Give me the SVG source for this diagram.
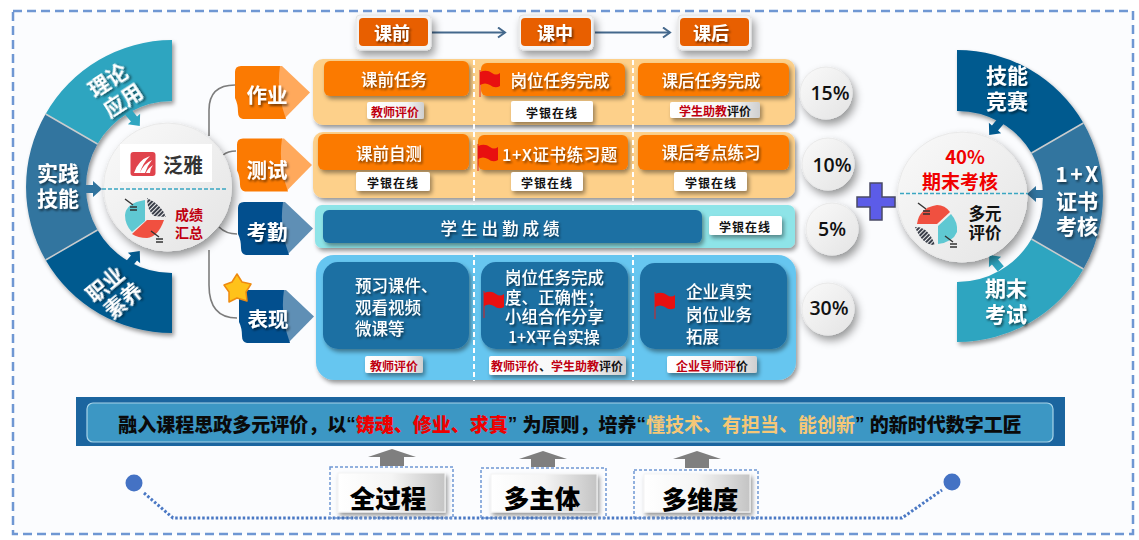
<svg xmlns="http://www.w3.org/2000/svg" width="1139" height="540" viewBox="0 0 1139 540">
<style>
text{font-family:"Noto Sans CJK SC","Noto Sans",sans-serif;text-anchor:middle;dominant-baseline:central}
.fan{font-size:21px;font-weight:700;fill:#fff;filter:url(#ts)}
.tag{font-size:20.5px;font-weight:700;fill:#fff;filter:url(#ts)}
.hd{font-size:18px;font-weight:700;fill:#fff;filter:url(#ts)}
.cell{font-size:16.5px;font-weight:500;fill:#fff;filter:url(#ts)}
.l{text-anchor:start}
.sm{font-size:12px;font-weight:700;fill:#111}
.red{fill:#c00010}
.pc{font-family:"Open Sans",sans-serif;font-size:19.5px;font-weight:600;fill:#111}
.big{font-size:25.5px;font-weight:900;fill:#000}
.q{font-family:"Liberation Sans",sans-serif}
.or{fill:#fb7a02}.db{fill:#1f6fa3}.wt{fill:#fff;filter:url(#s1)}.gt{fill:url(#gl);filter:url(#s1)}
.divd{stroke:#fff;stroke-width:2;stroke-dasharray:5 3;fill:none}
.circ{fill:url(#gc);stroke:#e9e9e9;stroke-width:1;filter:url(#s2)}
.box{fill:none;stroke:#6f97d3;stroke-width:1.5;stroke-dasharray:3 2}
.inner{fill:url(#gb);stroke:#f4f4f4;filter:url(#s1)}
.frame{fill:#f3f3f3;stroke:#e4e4e4;filter:url(#s2)}
</style>
<defs>
<filter id="s1" x="-20%" y="-30%" width="140%" height="170%"><feDropShadow dx="2" dy="3" stdDeviation="2" flood-color="#000" flood-opacity=".4"/></filter>
<filter id="s2" x="-30%" y="-30%" width="170%" height="170%"><feDropShadow dx="3" dy="5" stdDeviation="4" flood-color="#000" flood-opacity=".4"/></filter>
<filter id="ts" x="-20%" y="-30%" width="150%" height="170%"><feDropShadow dx="1.5" dy="2" stdDeviation="1.2" flood-color="#000" flood-opacity=".55"/></filter>
<linearGradient id="gc" x1="0" y1="0" x2="1" y2="1"><stop offset="0" stop-color="#fafafa"/><stop offset="1" stop-color="#e4e4e4"/></linearGradient>
<linearGradient id="gb" x1="0" y1="0" x2="1" y2="0"><stop offset="0" stop-color="#fff"/><stop offset=".5" stop-color="#f5f5f5"/><stop offset="1" stop-color="#c4c4c4"/></linearGradient>
<linearGradient id="gl" x1="0" y1="0" x2="1" y2="0"><stop offset="0" stop-color="#fff"/><stop offset=".7" stop-color="#f4f4f4"/><stop offset="1" stop-color="#cfcfcf"/></linearGradient>
<pattern id="hatch" width="3" height="3" patternUnits="userSpaceOnUse" patternTransform="rotate(45)"><rect width="3" height="3" fill="#eee"/><rect width="2" height="3" fill="#3a3f4a"/></pattern>
<marker id="ah" markerWidth="12" markerHeight="12" refX="10" refY="6" orient="auto" markerUnits="userSpaceOnUse"><path d="M3 1 L10 6 L3 11" fill="none" stroke="#44688c" stroke-width="2"/></marker>
<path id="sa" d="M-9 -4H0V-8L9 0L0 8V4H-9Z"/>
<path id="tagtip" d="M44 0H47L75 26.5L50 52H47Q40 26 44 0Z"/>
<path id="tagbody" d="M6 0H45Q41 26 51 53H8Q3 52 3 46Q3 38 0 32V6Q0 0 6 0Z"/>
<g id="flag"><path d="M1 0V27" stroke="#e02020" stroke-width="1" fill="none"/><path d="M1 2Q8 -1 13 3Q17 6 21 3V16Q16 19 11 15Q6 12 1 15Z" fill="#e81010"/></g>
<g id="ticks"><path d="M0 0L8 6M5 8H12M5 11H12" stroke="#333" stroke-width="1.4" fill="none"/></g>
</defs>

<rect width="1139" height="540" fill="#fff"/>
<rect x="13" y="11" width="1120" height="523" fill="#fbfcfe" stroke="#6f97d3" stroke-width="2.5" stroke-dasharray="9 5"/>

<g id="connectors" fill="none">
<path d="M235 85Q209 85 209 110V136" stroke="#7d7d7d" stroke-width="1.6"/>
<path d="M236 151Q228 151 223 155" stroke="#7d7d7d" stroke-width="1.6"/>
<path d="M219 227Q226 234 237 234" stroke="#7d7d7d" stroke-width="1.6"/>
<path d="M209 250V285Q209 318 237 318" stroke="#7d7d7d" stroke-width="1.6"/>
<path d="M432 32.500H505" stroke="#44688c" stroke-width="2" marker-end="url(#ah)"/>
<path d="M595 32.500H670" stroke="#44688c" stroke-width="2" marker-end="url(#ah)"/>
<path d="M144 493L173 518H902L942 490" stroke="#4a78c4" stroke-width="3" stroke-dasharray="2.500 2"/>
</g>

<g id="fan-left">
<g filter="url(#s1)">
<path id="seg-l1" d="M172 40A146 146 0 0 0 45.600 114L97.500 144A86 86 0 0 1 172 101Z" fill="#2fa5c0"/>
<path id="seg-l2" d="M45.600 114A146 146 0 0 0 45.600 260L97.500 230A86 86 0 0 1 97.500 144Z" fill="#31749f"/>
<path id="seg-l3" d="M45.600 260A146 146 0 0 0 172 333V273A86 86 0 0 1 97.500 230Z" fill="#025a8f"/>
</g>
<path d="M45.600 114L97.500 144M45.600 260L97.500 230" stroke="#c9ccce" stroke-width="1.500"/>
<text class="fan" transform="translate(107 79) rotate(-33)">理论<tspan x="1.700" dy="25">应用</tspan></text>
<text class="fan" x="58" y="172">实践<tspan x="58" dy="25">技能</tspan></text>
<text class="fan" transform="translate(104 283) rotate(-40)">职业<tspan x="3.500" dy="23.800">素养</tspan></text>
<use href="#sa" transform="translate(134 119) rotate(50)" fill="#2fa5c0"/>
<use href="#sa" transform="translate(93 189)" fill="#31749f"/>
<use href="#sa" transform="translate(134 258) rotate(-50)" fill="#025a8f"/>
</g>

<g id="hub-left">
<circle class="circ" cx="167.500" cy="187" r="64"/>
<rect x="120" y="144" width="92" height="38" fill="#fff"/>
<rect x="130.500" y="152" width="25" height="24" rx="3" fill="#e0434c"/>
<path d="M134 173Q138 160 150 156Q142 164 140 173ZM140 173Q143 164 152 160Q147 166 145 173ZM146 173Q148 168 153 165Q150 169 150 173Z" fill="#fff"/>
<text x="183" y="164" font-size="20" font-weight="700" fill="#333">泛雅</text>
<path d="M102 189H228" stroke="#3aa6c2" stroke-width="1.500" stroke-dasharray="4 2"/>
<path d="M145 200V221L132 232Q125 225 125 215Q126 203 145 200Z" fill="#5fc8d2"/>
<path d="M147 198Q162 205 166 217L154 216Q147 210 147 198Z" fill="url(#hatch)"/>
<path d="M147 220H164Q158 237 147 238Q138 238 132 234Z" fill="#f05040"/>
<use href="#ticks" transform="translate(125 199)"/>
<use href="#ticks" transform="translate(151 231)"/>
<text x="189" y="214" font-size="14" font-weight="700" fill="#c00010">成绩<tspan x="189" dy="17.500">汇总</tspan></text>
</g>

<g id="tag-zuoye" transform="translate(235 66)"><use href="#tagtip" fill="#ffa95c"/><use href="#tagbody" fill="#fb7a02"/><text class="tag" x="32" y="28">作业</text></g>
<g id="tag-ceshi" transform="translate(237 138.500)"><use href="#tagtip" fill="#ffa95c"/><use href="#tagbody" fill="#fb7a02"/><text class="tag" x="30" y="30">测试</text></g>
<g id="tag-kaoqin" transform="translate(238 202)"><use href="#tagtip" fill="#5f8fb5"/><use href="#tagbody" fill="#024f8e"/><text class="tag" x="29" y="29">考勤</text></g>
<g id="tag-biaoxian" transform="translate(239 290)"><use href="#tagtip" fill="#5f8fb5"/><use href="#tagbody" fill="#024f8e"/><text class="tag" x="29" y="28">表现</text></g>
<g id="star"><path d="M237 274L242 282L251 284L246 292L247 301L237 298L229 302L229 292L224 285L232 282Z" fill="#ffc21a" stroke="#ee8a10" stroke-width="1.500" stroke-linejoin="round"/></g>

<g id="headers">
<g id="h1"><rect class="frame" x="356" y="15" width="75" height="35" rx="4"/><rect x="359" y="18" width="69" height="28" rx="4" fill="#e85f00"/><text class="hd" x="392" y="32">课前</text></g>
<g id="h2"><rect class="frame" x="519" y="15" width="74" height="35" rx="4"/><rect x="521" y="18" width="70" height="28" rx="4" fill="#e85f00"/><text class="hd" x="555" y="32">课中</text></g>
<g id="h3"><rect class="frame" x="678" y="15" width="73" height="35" rx="4"/><rect x="680" y="18" width="69" height="28" rx="4" fill="#e85f00"/><text class="hd" x="711" y="32">课后</text></g>
</g>

<g id="row1">
<rect x="313" y="59" width="482" height="66" rx="10" fill="#fdd08a" filter="url(#s1)"/>
<rect class="or" x="324" y="61" width="145" height="35" rx="6" filter="url(#s1)"/>
<rect class="or" x="481" y="63" width="144" height="33" rx="6" filter="url(#s1)"/>
<rect class="or" x="638" y="63" width="151" height="33" rx="6" filter="url(#s1)"/>
<text class="cell" x="394" y="79">课前任务</text>
<text class="cell" x="560" y="80">岗位任务完成</text>
<text class="cell" x="711" y="80">课后任务完成</text>
<use href="#flag" transform="translate(479 70)"/>
<rect class="gt" x="367" y="102" width="57" height="17" rx="2"/><text class="sm red" x="395" y="111">教师评价</text>
<rect class="wt" x="511" y="101" width="82" height="21" rx="2"/><text class="sm" x="552" y="112" letter-spacing="1">学银在线</text>
<rect class="gt" x="670" y="102" width="90" height="16" rx="2"/><text class="sm" x="715" y="110"><tspan class="red">学生助教</tspan>评价</text>
</g>

<g id="row2">
<rect x="313" y="132" width="482" height="66" rx="10" fill="#fdd08a" filter="url(#s1)"/>
<rect class="or" x="318" y="134" width="151" height="36" rx="6" filter="url(#s1)"/>
<rect class="or" x="478" y="135" width="150" height="35" rx="6" filter="url(#s1)"/>
<rect class="or" x="638" y="135" width="151" height="35" rx="6" filter="url(#s1)"/>
<text class="cell" x="389" y="153">课前自测</text>
<text class="cell" x="560" y="154" font-size="17" letter-spacing=".6">1+X证书练习题</text>
<text class="cell" x="711" y="152">课后考点练习</text>
<use href="#flag" transform="translate(477 144)"/>
<rect class="wt" x="356" y="172" width="74" height="19" rx="2"/><text class="sm" x="393" y="182" letter-spacing="1">学银在线</text>
<rect class="wt" x="511" y="172" width="72" height="19" rx="2"/><text class="sm" x="547" y="182" letter-spacing="1">学银在线</text>
<rect class="wt" x="674" y="172" width="73" height="19" rx="2"/><text class="sm" x="711" y="182" letter-spacing="1">学银在线</text>
</g>

<g id="row4">
<rect x="316" y="255" width="480" height="125" rx="18" fill="#66c6f0" filter="url(#s1)"/>
<rect class="db" x="323" y="262" width="146" height="87" rx="15" filter="url(#s1)"/>
<rect class="db" x="481" y="262" width="147" height="87" rx="15" filter="url(#s1)"/>
<rect class="db" x="640" y="263" width="147" height="86" rx="15" filter="url(#s1)"/>
<text class="cell l" x="355" y="285">预习课件、<tspan x="355" dy="21.500">观看视频</tspan><tspan x="355" dy="21.500">微课等</tspan></text>
<text class="cell l" x="505" y="277">岗位任务完成<tspan x="505" dy="19.500">度、正确性；</tspan><tspan x="505" dy="19.500">小组合作分享</tspan><tspan x="508" dy="19.500" font-size="16">1+X平台实操</tspan></text>
<text class="cell l" x="686" y="291">企业真实<tspan x="686" dy="22.500">岗位业务</tspan><tspan x="686" dy="22.500">拓展</tspan></text>
<use href="#flag" transform="translate(483 291)"/>
<use href="#flag" transform="translate(654 292)"/>
<rect class="gt" x="365" y="356" width="58" height="17" rx="2"/><text class="sm red" x="394" y="365">教师评价</text>
<rect class="gt" x="489" y="356" width="137" height="19" rx="2"/><text class="sm" x="557" y="365"><tspan class="red">教师评价</tspan>、<tspan class="red">学生助教</tspan>评价</text>
<rect class="gt" x="667" y="356" width="90" height="17" rx="2"/><text class="sm" x="712" y="365"><tspan class="red">企业导师评</tspan>价</text>
</g>

<g id="dividers">
<path class="divd" d="M474 60V381M633 60V381"/>
</g>

<g id="row3">
<rect x="315" y="205" width="480" height="43" rx="7" fill="#8ee4e8" filter="url(#s1)"/>
<rect class="db" x="323" y="210" width="379" height="33" rx="6" filter="url(#s1)"/>
<text class="cell" x="502" y="228" letter-spacing="4" font-size="15.500">学生出勤成绩</text>
<rect class="wt" x="709" y="216" width="73" height="19" rx="2"/><text class="sm" x="745" y="226" letter-spacing="1">学银在线</text>
</g>

<g id="percents">
<g id="p15"><circle class="circ" cx="826" cy="93" r="26"/><text class="pc" x="830" y="92">15%</text></g>
<g id="p10"><circle class="circ" cx="828" cy="164" r="26"/><text class="pc" x="832" y="164">10%</text></g>
<g id="p5"><circle class="circ" cx="832" cy="229" r="26"/><text class="pc" x="832" y="228">5%</text></g>
<g id="p30"><circle class="circ" cx="828" cy="309" r="26"/><text class="pc" x="829" y="307">30%</text></g>
</g>

<g id="plus"><path d="M870 183H882V197H895V207H882V220H870V207H857V197H870Z" fill="#5c5ce8" stroke="#4a4a66" stroke-width="1.500"/></g>

<g id="fan-right">
<g filter="url(#s1)">
<path id="seg-r1" d="M957 50A146 146 0 0 1 1083.400 123L1031.500 153A86 86 0 0 0 957 111Z" fill="#025a8f"/>
<path id="seg-r2" d="M1083.400 123A146 146 0 0 1 1083.400 269L1031.500 239A86 86 0 0 0 1031.500 153Z" fill="#31749f"/>
<path id="seg-r3" d="M1083.400 269A146 146 0 0 1 957 342V282A86 86 0 0 0 1031.500 239Z" fill="#2fa5c0"/>
</g>
<path d="M1083.400 123L1031.500 153M1083.400 269L1031.500 239" stroke="#c9ccce" stroke-width="1.500"/>
<text class="fan" x="1007" y="74">技能<tspan x="1007" dy="26">竞赛</tspan></text>
<text class="fan" x="1078" y="173"><tspan letter-spacing="2.500">1+X</tspan><tspan x="1077" dy="27">证书</tspan><tspan x="1077" dy="25">考核</tspan></text>
<text class="fan" x="1006" y="287">期末<tspan x="1006" dy="26">考试</tspan></text>
<use href="#sa" transform="translate(995 128) rotate(130)" fill="#025a8f"/>
<use href="#sa" transform="translate(1036 194) rotate(180)" fill="#31749f"/>
<use href="#sa" transform="translate(995 262) rotate(-130)" fill="#2fa5c0"/>
</g>

<g id="hub-right">
<circle class="circ" cx="962" cy="197" r="65"/>
<path d="M900 193.500H1028" stroke="#3aa6c2" stroke-width="1.500" stroke-dasharray="4 2"/>
<text x="965" y="156" font-size="18.500" font-weight="700" fill="#f00000">40%<tspan x="960" dy="24" font-size="19">期末考核</tspan></text>
<path d="M917 224Q919 208 937 205Q945 205 950 212L937 224Z" fill="#f05040"/>
<path d="M938 226L951 214Q958 222 957 232Q953 242 938 244Z" fill="#5fc8d2"/>
<path d="M915 227Q928 226 935 245Q922 245 915 227Z" fill="url(#hatch)"/>
<use href="#ticks" transform="translate(918 203)"/>
<use href="#ticks" transform="translate(945 236)"/>
<text x="985" y="213" font-size="16.500" font-weight="700" fill="#111">多元<tspan x="985" dy="19">评价</tspan></text>
</g>

<g id="banner">
<rect x="76" y="397" width="989" height="49" fill="#1b659f"/>
<rect x="87" y="403" width="966" height="39" rx="6" fill="#3c97c4" stroke="#a8d4e8" stroke-width="1.200"/>
<text x="570" y="423" font-size="19" font-weight="900" fill="#0a0a0a">融入课程思政多元评价，以<tspan class="q">“</tspan><tspan fill="#f00000">铸魂、修业、求真</tspan><tspan class="q">” </tspan>为原则，培养<tspan class="q">“</tspan><tspan fill="#f5c777" font-weight="700">懂技术、有担当、能创新</tspan><tspan class="q">” </tspan>的新时代数字工匠</text>
</g>

<g id="up-arrows" fill="#7f7f7f">
<path d="M392 449L416 457H404V466H380V457H368Z"/>
<path d="M543 451L567 459H555V467H531V459H519Z"/>
<path d="M697 451L721 459H709V468H685V459H673Z"/>
</g>

<g id="n-quanguocheng"><rect class="box" x="330" y="467" width="123" height="51"/><rect class="inner" x="338" y="473" width="107" height="39"/><text class="big" x="388" y="496">全过程</text></g>
<g id="n-duozhuti"><rect class="box" x="481" y="468" width="125" height="50"/><rect class="inner" x="491" y="474" width="106" height="38"/><text class="big" x="542" y="496">多主体</text></g>
<g id="n-duoweidu"><rect class="box" x="634" y="470" width="124" height="48"/><rect class="inner" x="644" y="474" width="106" height="38"/><text class="big" x="700" y="497">多维度</text></g>
<g id="dots" fill="#4472c4"><circle cx="134" cy="483" r="8.500"/><circle cx="952" cy="482" r="8.500"/></g>
</svg>
